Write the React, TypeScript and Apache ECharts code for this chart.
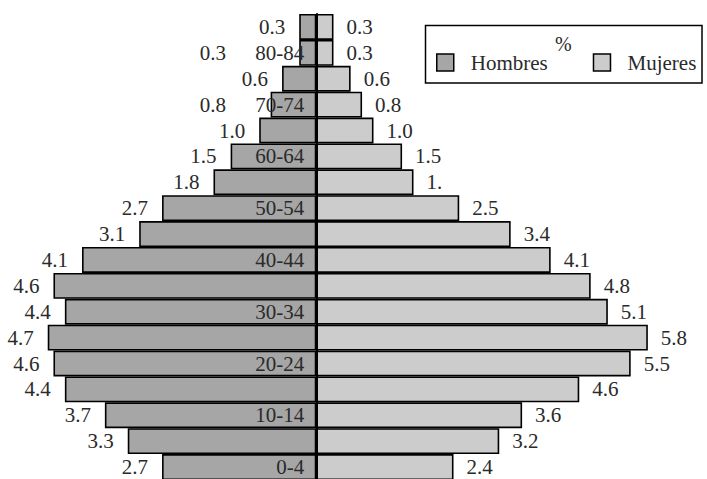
import React, { useEffect, useRef } from "react";
import * as echarts from "echarts";

const ageGroups = [
  "0-4", "5-9", "10-14", "15-19", "20-24", "25-29", "30-34", "35-39", "40-44",
  "45-49", "50-54", "55-59", "60-64", "65-69", "70-74", "75-79", "80-84", "85+",
];
const hombres = [2.7, 3.3, 3.7, 4.4, 4.6, 4.7, 4.4, 4.6, 4.1, 3.1, 2.7, 1.8, 1.5, 1.0, 0.8, 0.6, 0.3, 0.3];
const mujeres = [2.4, 3.2, 3.6, 4.6, 5.5, 5.8, 5.1, 4.8, 4.1, 3.4, 2.5, 1.7, 1.5, 1.0, 0.8, 0.6, 0.3, 0.3];
const hombresLabels = ["2.7", "3.3", "3.7", "4.4", "4.6", "4.7", "4.4", "4.6", "4.1", "3.1", "2.7", "1.8", "1.5", "1.0", "0.8", "0.6", "0.3", "0.3"];
const mujeresLabels = ["2.4", "3.2", "3.6", "4.6", "5.5", "5.8", "5.1", "4.8", "4.1", "3.4", "2.5", "1.", "1.5", "1.0", "0.8", "0.6", "0.3", "0.3"];

const FONT = "Liberation Serif";
const TEXT = "#2a2a2a";

const X_MIN = -5.5;
const X_MAX = 6.8;
const GRID_LEFT = 2;
const GRID_RIGHT = 2;
const WIDTH = 707;
const PX_PER_UNIT = (WIDTH - GRID_LEFT - GRID_RIGHT) / (X_MAX - X_MIN);
const CENTER = GRID_LEFT - X_MIN * PX_PER_UNIT;

export default function App() {
  const ref = useRef<HTMLDivElement>(null);
  useEffect(() => {
    if (!ref.current) return;
    const chart = echarts.init(ref.current, undefined, { renderer: "svg" });
    // male value labels that would collide with a shown category label are pushed further left
    const maleData = hombres.map((v, i) => {
      const hasCat = i % 2 === 0;
      const barLeft = CENTER - v * PX_PER_UNIT;
      if (hasCat && v < 1) {
        return { value: -v, label: { distance: Math.max(14, barLeft - 226) } };
      }
      return -v;
    });
    chart.setOption({
      animation: false,
      backgroundColor: "#ffffff",
      textStyle: { fontFamily: FONT },
      grid: {
        left: GRID_LEFT,
        right: GRID_RIGHT,
        top: 14,
        height: 466,
        containLabel: false,
        outerBoundsMode: "none",
      },
      xAxis: {
        type: "value",
        min: X_MIN,
        max: X_MAX,
        show: false,
        splitLine: { show: false },
      },
      yAxis: {
        type: "category",
        data: ageGroups,
        position: "left",
        offset: -(CENTER - GRID_LEFT),
        axisLine: { show: true, onZero: false, lineStyle: { color: "#000", width: 2 } },
        axisTick: { show: false },
        axisLabel: {
          interval: 1,
          margin: 12,
          fontSize: 21,
          fontFamily: FONT,
          color: TEXT,
        },
        splitLine: { show: false },
        z: 10,
      },
      legend: {
        data: ["Hombres", "Mujeres"],
        left: 436,
        top: 52,
        padding: 0,
        itemWidth: 17,
        itemHeight: 17,
        itemGap: 45,
        icon: "rect",
        itemStyle: { borderColor: "#000", borderWidth: 1.5 },
        textStyle: {
          fontSize: 21,
          fontFamily: FONT,
          color: TEXT,
          padding: [0, 0, 0, 12],
        },
      },
      graphic: [
        {
          type: "rect",
          z: -1,
          shape: { x: 425.5, y: 25.5, width: 276.5, height: 57.5 },
          style: { fill: "#fff", stroke: "#000", lineWidth: 1.5 },
        },
        {
          type: "text",
          z: 5,
          x: 555,
          y: 34,
          style: { text: "%", fontSize: 20, fontFamily: FONT, fill: TEXT },
        },
      ],
      series: [
        {
          name: "Hombres",
          type: "bar",
          data: maleData,
          barGap: "-100%",
          barCategoryGap: 0,
          itemStyle: { color: "#a6a6a6", borderColor: "#000", borderWidth: 1.6 },
          label: {
            show: true,
            position: "left",
            distance: 14,
            fontSize: 21,
            fontFamily: FONT,
            color: TEXT,
            formatter: (p: any) => hombresLabels[p.dataIndex],
          },
        },
        {
          name: "Mujeres",
          type: "bar",
          data: mujeres,
          barGap: "-100%",
          barCategoryGap: 0,
          itemStyle: { color: "#cccccc", borderColor: "#000", borderWidth: 1.6 },
          label: {
            show: true,
            position: "right",
            distance: 13,
            fontSize: 21,
            fontFamily: FONT,
            color: TEXT,
            formatter: (p: any) => mujeresLabels[p.dataIndex],
          },
        },
      ],
    });
    return () => chart.dispose();
  }, []);
  return (
    <div
      ref={ref}
      style={{ position: "fixed", left: 0, top: 0, width: 707, height: 479 }}
    />
  );
}
